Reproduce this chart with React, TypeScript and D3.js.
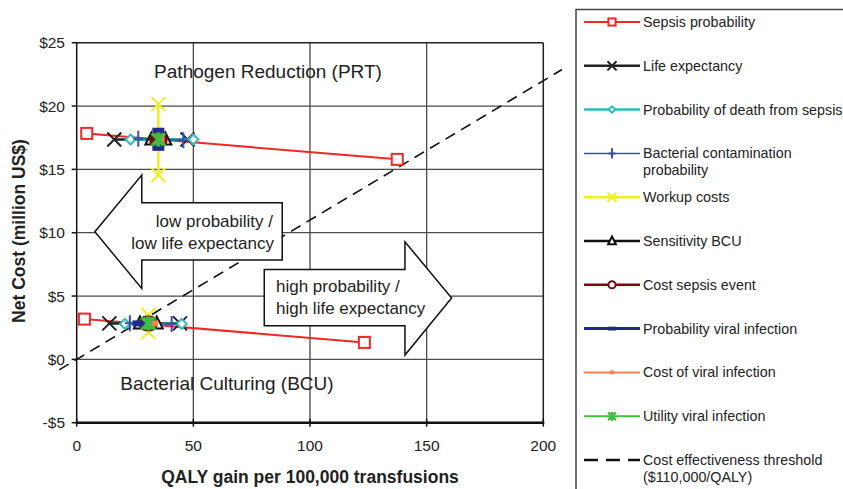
import React from "react";
import * as d3 from "d3";

type Pt = [number, number];

// tick labels
const xTicks = [0, 50, 100, 150, 200];
const yTicks = [25, 20, 15, 10, 5, 0, -5];

// series names, in legend order
const seriesNames = [
  "Sepsis probability",
  "Life expectancy",
  "Probability of death from sepsis",
  "Bacterial contamination probability",
  "Workup costs",
  "Sensitivity BCU",
  "Cost sepsis event",
  "Probability viral infection",
  "Cost of viral infection",
  "Utility viral infection",
];

// [QALY gain, net cost] ranges for PRT (upper) and BCU (lower) groups
const prtValues: Pt[][] = [
  [[4.3, 17.84], [137.4, 15.79]],
  [[16.1, 17.36], [47.5, 17.36]],
  [[23.1, 17.36], [50.0, 17.36]],
  [[26.4, 17.42], [45.7, 17.3]],
  [[35.0, 20.15], [35.0, 14.55]],
  [[32.0, 17.36], [38.0, 17.36]],
  [[34.4, 17.36], [35.6, 17.36]],
  [[35.0, 18.05], [35.0, 16.7]],
  [[35.2, 17.36], [36.4, 17.36]],
  [[34.6, 17.36], [35.4, 17.36]],
];
const bcuValues: Pt[][] = [
  [[3.3, 3.18], [123.3, 1.34]],
  [[14.0, 2.84], [44.3, 2.84]],
  [[20.7, 2.8], [45.0, 2.8]],
  [[22.8, 2.86], [40.7, 2.8]],
  [[30.7, 3.5], [30.7, 2.15]],
  [[27.1, 2.84], [34.3, 2.84]],
  [[30.0, 2.84], [31.4, 2.84]],
  [[26.5, 2.84], [30.7, 2.84]],
  [[30.7, 2.84], [33.6, 2.84]],
  [[30.2, 2.84], [31.2, 2.84]],
];

// cost effectiveness threshold: $110,000 per QALY => 0.11 million per QALY
const thresholdPerQaly = 0.11;
const thresholdRange = [-7.5, 208];

const colors = [
  "#f02828",
  "#222222",
  "#2fbcbc",
  "#3a4faa",
  "#eeee22",
  "#111111",
  "#7a0a0a",
  "#1f2a8a",
  "#ff7f50",
  "#44bb44",
];
const markers = ["square", "x", "diamond", "plus", "x", "triangle", "circle", "bar", "dot", "star"];
const widths = [2, 2.5, 2.5, 1.5, 2.5, 2.5, 2.5, 3, 2, 2];

// annotation arrows (data units)
const leftArrow: Pt[] = [
  [7.8, 10.07], [27.9, 14.55], [27.9, 12.36], [88.1, 12.36],
  [88.1, 7.84], [27.9, 7.84], [27.9, 5.6],
];
const rightArrow: Pt[] = [
  [80.4, 7.1], [140.7, 7.1], [140.7, 9.28], [160.7, 4.85],
  [140.7, 0.34], [140.7, 2.65], [80.4, 2.65],
];

const W = 843;
const H = 489;
const font = "'Liberation Sans', Arial, sans-serif";

const x = d3.scaleLinear().domain([0, 200]).range([76.7, 543.3]);
const y = d3.scaleLinear().domain([-5, 25]).range([422.7, 42.7]);

function Marker({ kind, cx, cy, color, s = 1, legend = false }: { kind: string; cx: number; cy: number; color: string; s?: number; legend?: boolean }) {
  switch (kind) {
    case "square":
      return <rect x={cx - 5.5 * s} y={cy - 5.5 * s} width={11 * s} height={11 * s} fill="white" stroke={color} strokeWidth={2} />;
    case "x":
      return (
        <path d={`M${cx - 7 * s},${cy - 7 * s}L${cx + 7 * s},${cy + 7 * s}M${cx - 7 * s},${cy + 7 * s}L${cx + 7 * s},${cy - 7 * s}`} stroke={color} strokeWidth={2} />
      );
    case "diamond":
      return <path d={`M${cx},${cy - 5 * s}L${cx + 5 * s},${cy}L${cx},${cy + 5 * s}L${cx - 5 * s},${cy}Z`} fill="white" stroke={color} strokeWidth={2} />;
    case "plus":
      return <path d={`M${cx},${cy - 8 * s}V${cy + 8 * s}M${cx - 5 * s},${cy}H${cx + 5 * s}`} stroke={color} strokeWidth={2} />;
    case "triangle":
      return <path d={`M${cx},${cy - 7 * s}L${cx + 6 * s},${cy + 5 * s}L${cx - 6 * s},${cy + 5 * s}Z`} fill="white" stroke={color} strokeWidth={2} />;
    case "circle":
      return <circle cx={cx} cy={cy} r={(legend ? 5.5 : 7) * s} fill={legend ? "white" : color} stroke={color} strokeWidth={2} />;
    case "bar":
      return <rect x={cx - 6 * s} y={cy - 3 * s} width={12 * s} height={6 * s} fill={color} />;
    case "dot":
      return <rect x={cx - 3 * s} y={cy - 3 * s} width={6 * s} height={6 * s} fill={color} />;
    case "star":
      return (
        <path
          d={`M${cx - 6 * s},${cy - 6 * s}L${cx + 6 * s},${cy + 6 * s}M${cx - 6 * s},${cy + 6 * s}L${cx + 6 * s},${cy - 6 * s}M${cx},${cy - 7 * s}V${cy + 7 * s}`}
          stroke={color}
          strokeWidth={2.5}
        />
      );
    default:
      return null;
  }
}

export default function App() {
  const line = d3.line<Pt>().x((d) => x(d[0])).y((d) => y(d[1]));
  const legendRowY = (i: number) => 22 + i * 43.8;
  const legendRows = [...seriesNames.map((n, i) => ({ name: n, i })), { name: "Cost effectiveness threshold", i: 10 }];

  return (
    <div style={{ position: "absolute", left: 0, top: 0 }}>
      <svg width={W} height={H} style={{ display: "block", fontFamily: font }}>
        <rect width={W} height={H} fill="white" />

        {/* gridlines */}
        {yTicks.filter((t) => t > -5 && t < 25).map((t) => (
          <line key={"gy" + t} x1={x(0)} x2={x(200)} y1={y(t)} y2={y(t)} stroke="#4a4a4a" strokeWidth={1.3} />
        ))}
        {xTicks.filter((t) => t > 0 && t < 200).map((t) => (
          <line key={"gx" + t} x1={x(t)} x2={x(t)} y1={y(-5)} y2={y(25)} stroke="#4a4a4a" strokeWidth={1.3} />
        ))}
        {/* plot border */}
        <line x1={x(0)} x2={x(200)} y1={y(25)} y2={y(25)} stroke="#222" strokeWidth={1.5} />
        <line x1={x(200)} x2={x(200)} y1={y(25)} y2={y(-5)} stroke="#222" strokeWidth={1.5} />

        {/* threshold */}
        <path
          d={line(thresholdRange.map((q) => [q, q * thresholdPerQaly] as Pt)) || ""}
          stroke="#111"
          strokeWidth={1.6}
          strokeDasharray="11,7"
          fill="none"
        />

        {/* annotation arrows */}
        <path d={(line(leftArrow) || "") + "Z"} fill="white" stroke="#111" strokeWidth={1.5} />
        <path d={(line(rightArrow) || "") + "Z"} fill="white" stroke="#111" strokeWidth={1.5} />
        <g fontSize={17} fill="#222">
          <text x={273} y={227} textAnchor="end">low probability /</text>
          <text x={274} y={249} textAnchor="end">low life expectancy</text>
          <text x={276} y={292}>high probability /</text>
          <text x={276} y={314}>high life expectancy</text>
        </g>
        <text x={268} y={78} fontSize={19} textAnchor="middle" fill="#222">Pathogen Reduction (PRT)</text>
        <text x={227} y={390} fontSize={19} textAnchor="middle" fill="#222">Bacterial Culturing (BCU)</text>

        {/* axes */}
        <line x1={x(0)} x2={x(0)} y1={y(25)} y2={y(-5)} stroke="#111" strokeWidth={1.5} />
        <line x1={x(0) - 1} x2={x(200) + 1} y1={y(-5)} y2={y(-5)} stroke="#111" strokeWidth={2.5} />
        {yTicks.map((t) => (
          <g key={"yt" + t}>
            <line x1={x(0) - 5} x2={x(0)} y1={y(t)} y2={y(t)} stroke="#111" strokeWidth={1.5} />
            <text x={65} y={y(t) + 5.5} fontSize={15.5} textAnchor="end" fill="#222">
              {t < 0 ? `-$${-t}` : `$${t}`}
            </text>
          </g>
        ))}
        {xTicks.map((t) => (
          <g key={"xt" + t}>
            <line x1={x(t)} x2={x(t)} y1={y(-5) - 4} y2={y(-5) + 4} stroke="#111" strokeWidth={1.5} />
            <text x={x(t)} y={451} fontSize={15.5} textAnchor="middle" fill="#222">{t}</text>
          </g>
        ))}
        <text x={310} y={483} fontSize={17.5} fontWeight="bold" textAnchor="middle" fill="#222">
          QALY gain per 100,000 transfusions
        </text>
        <text transform="translate(25,231) rotate(-90)" fontSize={17.5} fontWeight="bold" textAnchor="middle" fill="#222">
          Net Cost (million US$)
        </text>

        {/* data series */}
        {seriesNames.map((n, i) => (
          <g key={n}>
            {[prtValues[i], bcuValues[i]].map((pts, k) => (
              <g key={k}>
                <path d={line(pts) || ""} stroke={colors[i]} strokeWidth={widths[i]} fill="none" />
                {pts.map((p, j) => (
                  <Marker key={j} kind={markers[i]} cx={x(p[0])} cy={y(p[1])} color={colors[i]} />
                ))}
              </g>
            ))}
          </g>
        ))}

        {/* legend */}
        <rect x={576} y={9.5} width={300} height={500} fill="white" stroke="#444" strokeWidth={1.5} />
        {legendRows.map(({ name, i }) => {
          const ly = legendRowY(i);
          const twoLine = i === 3 || i === 10;
          const first = i === 3 ? "Bacterial contamination" : name;
          const second = i === 3 ? "probability" : "($110,000/QALY)";
          return (
            <g key={"lg" + i}>
              {i < 10 ? (
                <>
                  <line x1={584} x2={640} y1={ly} y2={ly} stroke={colors[i]} strokeWidth={widths[i]} />
                  <Marker kind={markers[i]} cx={612} cy={ly} color={colors[i]} s={0.65} legend />
                </>
              ) : (
                <line x1={584} x2={640} y1={ly} y2={ly} stroke="#111" strokeWidth={2.4} strokeDasharray="14,8" />
              )}
              <text x={643} y={ly + 5} fontSize={14.3} fill="#222">{first}</text>
              {twoLine && (
                <text x={643} y={ly + 22} fontSize={14.3} fill="#222">{second}</text>
              )}
            </g>
          );
        })}
      </svg>
    </div>
  );
}
